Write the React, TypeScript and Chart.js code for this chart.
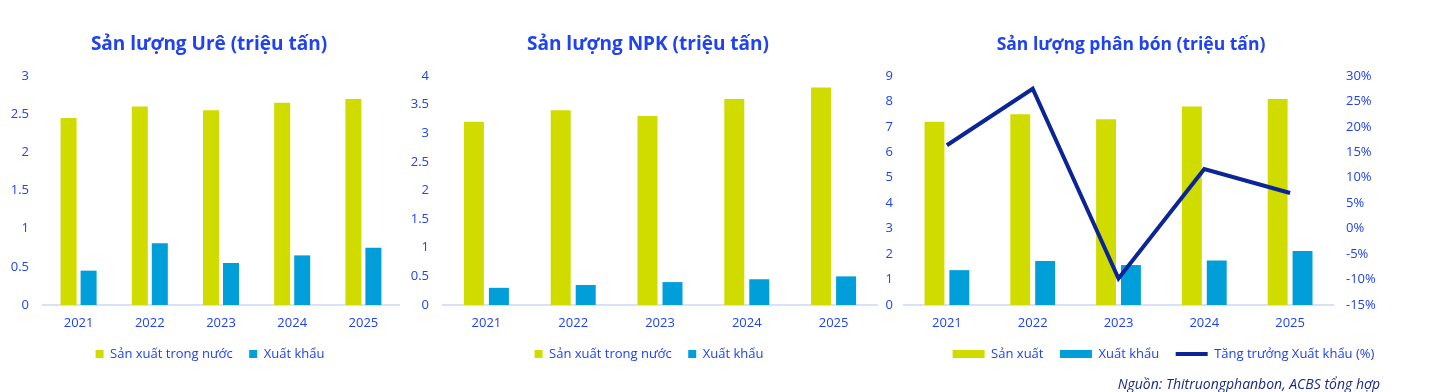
import React, { useEffect, useRef } from 'react';
import { Chart, registerables } from 'chart.js';

Chart.register(...registerables);

// ---------- data ----------
const years = ['2021', '2022', '2023', '2024', '2025'];

const ureProduction = [2.45, 2.6, 2.55, 2.65, 2.7];
const ureExport = [0.45, 0.81, 0.55, 0.65, 0.75];

const npkProduction = [3.2, 3.4, 3.3, 3.6, 3.8];
const npkExport = [0.3, 0.35, 0.4, 0.45, 0.5];

const fertProduction = [7.2, 7.5, 7.3, 7.8, 8.1];
const fertExport = [1.37, 1.73, 1.57, 1.75, 2.12];
const exportGrowthPct = [16.4, 27.5, -9.8, 11.7, 7.0];

const titleUre = 'Sản lượng Urê (triệu tấn)';
const titleNpk = 'Sản lượng NPK (triệu tấn)';
const titleFert = 'Sản lượng phân bón (triệu tấn)';
const labelDomestic = 'Sản xuất trong nước';
const labelExport = 'Xuất khẩu';
const labelProduction = 'Sản xuất';
const labelGrowth = 'Tăng trưởng Xuất khẩu (%)';
const sourceText = 'Nguồn: Thitruongphanbon, ACBS tổng hợp';

// ---------- styles ----------
const FONT = "'Open Sans', 'Noto Sans', sans-serif";
const TXT = '#1f42f2';
const GREEN = '#d0dc00';
const BLUE = '#009fd9';
const NAVY = '#0b2496';
const AXIS = '#d8e1f7';

type Cfg = any;

function ChartCanvas({ left, width, height, config }: { left: number; width: number; height: number; config: Cfg }) {
  const ref = useRef<HTMLCanvasElement | null>(null);
  useEffect(() => {
    const c = new Chart(ref.current as HTMLCanvasElement, config);
    return () => c.destroy();
  }, []);
  return (
    <canvas
      ref={ref}
      width={width}
      height={height}
      style={{ position: 'absolute', left, top: 0, width, height }}
    />
  );
}

function xScale() {
  return {
    grid: { display: false, drawTicks: false },
    border: { display: true, color: AXIS, width: 2 },
    ticks: { color: TXT, font: { family: FONT, size: 13 }, padding: 10 },
    afterFit: (s: any) => {
      s.height = 26;
    },
  };
}

function yScale(max: number, step: number, w: number, pad: number) {
  return {
    min: 0,
    max,
    grid: { display: false, drawTicks: false },
    border: { display: false },
    ticks: {
      color: TXT,
      font: { family: FONT, size: 13 },
      padding: pad,
      stepSize: step,
      callback: (v: any) => String(Number(v)),
    },
    afterFit: (s: any) => {
      s.width = w;
    },
  };
}

// empty right-hand spacer axis (keeps the legend centred like the original)
function spacerScale(w: number) {
  return {
    position: 'right',
    grid: { display: false, drawTicks: false },
    border: { display: false },
    ticks: { display: false },
    afterFit: (s: any) => {
      s.width = w;
    },
  };
}

const legendFont = { family: FONT, size: 13 };

function simpleBarConfig(prod: number[], exp: number[], max: number, yW: number, rightW: number, catPct: number): Cfg {
  return {
    type: 'bar',
    data: {
      labels: years,
      datasets: [
        { label: labelDomestic, data: prod, backgroundColor: GREEN, borderWidth: 0 },
        { label: labelExport, data: exp, backgroundColor: BLUE, borderWidth: 0 },
      ],
    },
    options: {
      responsive: false,
      animation: false,
      layout: { padding: { top: 76, right: 0, bottom: 21.5, left: 0 } },
      datasets: { bar: { categoryPercentage: catPct, barPercentage: 0.8 } },
      scales: {
        x: xScale(),
        y: yScale(max, 0.5, yW, 14),
        spacer: spacerScale(rightW),
      },
      plugins: {
        tooltip: { enabled: false },
        title: { display: false },
        legend: {
          position: 'bottom',
          labels: {
            color: TXT,
            font: legendFont,
            boxWidth: 8,
            boxHeight: 8,
            padding: 16.5,
          },
        },
      },
    },
  };
}

const fertConfig: Cfg = {
  type: 'bar',
  data: {
    labels: years,
    datasets: [
      { label: labelProduction, data: fertProduction, backgroundColor: GREEN, borderWidth: 0, pointStyle: 'rect', yAxisID: 'y' },
      { label: labelExport, data: fertExport, backgroundColor: BLUE, borderWidth: 0, pointStyle: 'rect', yAxisID: 'y' },
      {
        type: 'line',
        label: labelGrowth,
        data: exportGrowthPct,
        borderColor: NAVY,
        backgroundColor: NAVY,
        borderWidth: 4,
        pointRadius: 0,
        pointStyle: 'line',
        tension: 0,
        yAxisID: 'y1',
        order: -1,
      },
    ],
  },
  options: {
    responsive: false,
    animation: false,
    layout: { padding: { top: 76, right: 0, bottom: 21.5, left: 0 } },
    datasets: { bar: { categoryPercentage: 0.58, barPercentage: 0.8 } },
    scales: {
      x: xScale(),
      y: yScale(9, 1, 26, 11),
      y1: {
        position: 'right',
        min: -15,
        max: 30,
        grid: { display: false, drawTicks: false },
        border: { display: false },
        ticks: {
          color: TXT,
          font: { family: FONT, size: 13 },
          padding: 13,
          stepSize: 5,
          callback: (v: any) => v + '%',
        },
        afterFit: (s: any) => {
          s.width = 116;
        },
      },
    },
    plugins: {
      tooltip: { enabled: false },
      title: { display: false },
      legend: {
        position: 'bottom',
        labels: {
          color: TXT,
          font: legendFont,
          usePointStyle: true,
          pointStyleWidth: 32,
          boxHeight: 8,
          padding: 16.5,
          sort: (a: any, b: any) => a.datasetIndex - b.datasetIndex,
        },
      },
    },
  },
};

function Title({ cx, text, size }: { cx: number; text: string; size: number }) {
  return (
    <div
      style={{
        position: 'absolute',
        left: cx - 200,
        width: 400,
        top: 30,
        height: 26,
        lineHeight: '26px',
        textAlign: 'center',
        fontFamily: FONT,
        fontWeight: 700,
        fontSize: size,
        color: TXT,
        whiteSpace: 'nowrap',
      }}
    >
      {text}
    </div>
  );
}

export default function App() {
  return (
    <div
      style={{
        position: 'absolute',
        left: 0,
        top: 0,
        width: 1456,
        height: 392,
        background: '#ffffff',
        overflow: 'hidden',
      }}
    >
      <ChartCanvas left={0} width={420} height={392} config={simpleBarConfig(ureProduction, ureExport, 3, 43, 21, 0.562)} />
      <ChartCanvas left={405} width={488} height={392} config={simpleBarConfig(npkProduction, npkExport, 4, 38, 16, 0.576)} />
      <ChartCanvas left={878} width={571} height={392} config={fertConfig} />
      <Title cx={209} text={titleUre} size={19} />
      <Title cx={648} text={titleNpk} size={19} />
      <Title cx={1131} text={titleFert} size={17.5} />
      <div
        style={{
          position: 'absolute',
          right: 76,
          top: 375,
          height: 18,
          lineHeight: '18px',
          fontFamily: FONT,
          fontStyle: 'italic',
          fontSize: 14,
          color: '#1a2a86',
          whiteSpace: 'nowrap',
        }}
      >
        {sourceText}
      </div>
    </div>
  );
}
